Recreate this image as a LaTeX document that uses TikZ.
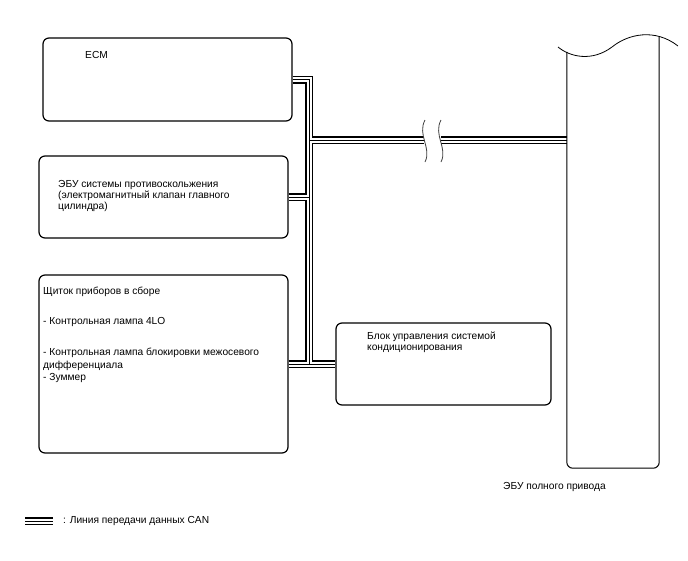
\documentclass[tikz,border=0pt]{standalone}
\usepackage{fontspec}
\setmainfont{Liberation Sans}
\usetikzlibrary{positioning}

\begin{document}
\begin{tikzpicture}[x=1pt,y=-1pt,
                    box node/.style={draw,rounded corners=6pt,line width=1.2pt,inner sep=0pt},
                    text node/.style={inner sep=0pt,align=left,font=\fontsize{10.2pt}{11pt}\selectfont},
                    bus line/.style={line width=8pt,line join=miter,
                      postaction={draw=white,line width=5pt},
                      postaction={draw=black,line width=1pt}},
                    cut mark/.style={draw=black!75,line width=0.8pt}]
  \useasboundingbox (0,0) rectangle (688,560);

  \node[box node,minimum width=249pt,minimum height=83pt] (1) at (167.5,79.5) {};
  \node[box node,minimum width=249pt,minimum height=82pt] (2) at (163.5,197) {};
  \node[box node,minimum width=249pt,minimum height=178pt] (3) at (163.5,364) {};
  \node[box node,minimum width=215pt,minimum height=82pt] (4) at (443.5,364) {};
  \node[minimum width=92pt,minimum height=416pt,inner sep=0pt] (5) at (613,260) {};

  \node[text node,anchor=west] (1t) at (85,55) {ECM};
  \node[text node,anchor=west] (2t) at (58,196) {ЭБУ системы противоскольжения\\(электромагнитный клапан главного\\цилиндра)};
  \node[text node,anchor=north west,font=\fontsize{10.2pt}{12.5pt}\selectfont] (3t) at (43,287)
    {Щиток приборов в сборе\\[17pt]- Контрольная лампа 4LO\\[19pt]- Контрольная лампа блокировки межосевого\\дифференциала\\- Зуммер};
  \node[text node,anchor=west] (4t) at (367,342) {Блок управления системой\\кондиционирования};
  \node[text node] (5t) at (554.5,487) {ЭБУ полного привода};

  % CAN bus
  \coordinate (top) at (309,79.5);
  \coordinate (bot) at (309,364);
  \coordinate (tap) at (309,140);
  \coordinate (cutL) at (424,140);
  \coordinate (cutR) at (441,140);
  \draw[bus line] (1.east) -- (top) -- (bot)
    (2.east) -- (2.east -| top)
    (3.east |- bot) -- (4.west |- bot)
    (tap) -- (cutL)
    (cutR) -- (5.west |- tap);

  % break in the line
  \draw[cut mark] (425,120) .. controls (417,135) and (432,148) .. (425,162);
  \draw[cut mark] (441,120) .. controls (433,135) and (448,148) .. (441,162);

  % 4WD ECU, cut off at the top
  \draw[line width=1pt,rounded corners=6pt] (5.north west) -- (5.south west) -- (5.south east) -- (659,37);
  \draw[line width=0.8pt] (558,47) .. controls (570,57) and (592,62) .. (612,47)
    .. controls (628,34) and (655,28) .. (678,46);

  % legend
  \coordinate (l1) at (25,521);
  \coordinate (l2) at (53,521);
  \draw[bus line] (l1) -- (l2);
  \node[text node,anchor=west] (6) [right=10pt of l2] {: Линия передачи данных CAN};
\end{tikzpicture}
\end{document}
